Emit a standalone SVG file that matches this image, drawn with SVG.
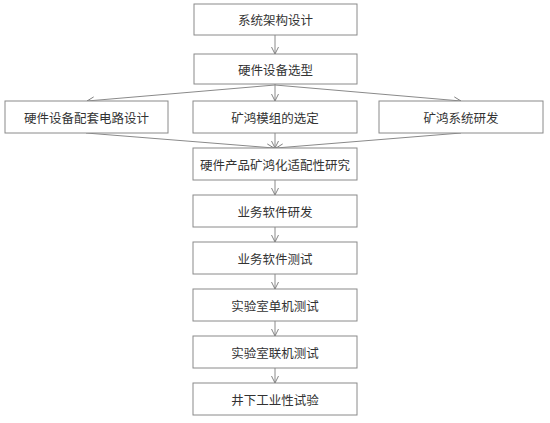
<svg xmlns="http://www.w3.org/2000/svg" width="550" height="423" viewBox="0 0 550 423">
<defs>
<marker id="ah" markerWidth="10" markerHeight="10" refX="8" refY="5" orient="auto" markerUnits="userSpaceOnUse">
<path d="M1,1.5 L8,5 L1,8.5" fill="none" stroke="#777" stroke-width="0.9"/>
</marker>
</defs>
<style>
.b{fill:#fff;stroke:#8a8a8a;stroke-width:1}
.t{font-family:"Noto Sans CJK SC","Noto Sans CJK JP",sans-serif;font-size:12.5px;fill:#333;text-anchor:middle;dominant-baseline:central}
.c{stroke:#8a8a8a;stroke-width:1;fill:none;marker-end:url(#ah)}
</style>
<rect width="550" height="423" fill="#fff"/>
<g id="connectors">
<line class="c" x1="275" y1="35" x2="275" y2="54"/>
<line class="c" x1="275" y1="84" x2="275" y2="101"/>
<line class="c" x1="275" y1="85" x2="87" y2="101"/>
<line class="c" x1="275" y1="85" x2="461" y2="101"/>
<line class="c" x1="86" y1="133" x2="274" y2="148"/>
<line class="c" x1="275" y1="133" x2="275" y2="148"/>
<line class="c" x1="461" y1="133" x2="276" y2="148"/>
<line class="c" x1="275" y1="180" x2="275" y2="195"/>
<line class="c" x1="275" y1="227" x2="275" y2="242"/>
<line class="c" x1="275" y1="274" x2="275" y2="289"/>
<line class="c" x1="275" y1="321" x2="275" y2="336"/>
<line class="c" x1="275" y1="368" x2="275" y2="383"/>
</g>
<g id="n1"><rect class="b" x="194" y="4" width="163" height="31"/><text class="t" x="275.5" y="19.5">系统架构设计</text></g>
<g id="n2"><rect class="b" x="194" y="54" width="163" height="30"/><text class="t" x="275.5" y="69">硬件设备选型</text></g>
<g id="n3"><rect class="b" x="5" y="101" width="163" height="32"/><text class="t" x="86.5" y="117">硬件设备配套电路设计</text></g>
<g id="n4"><rect class="b" x="193" y="101" width="164" height="32"/><text class="t" x="275" y="117">矿鸿模组的选定</text></g>
<g id="n5"><rect class="b" x="379" y="101" width="164" height="32"/><text class="t" x="461" y="117">矿鸿系统研发</text></g>
<g id="n6"><rect class="b" x="193" y="148" width="164" height="32"/><text class="t" x="275" y="164">硬件产品矿鸿化适配性研究</text></g>
<g id="n7"><rect class="b" x="193" y="195" width="164" height="32"/><text class="t" x="275" y="211">业务软件研发</text></g>
<g id="n8"><rect class="b" x="193" y="242" width="164" height="32"/><text class="t" x="275" y="258">业务软件测试</text></g>
<g id="n9"><rect class="b" x="193" y="289" width="164" height="32"/><text class="t" x="275" y="305">实验室单机测试</text></g>
<g id="n10"><rect class="b" x="193" y="336" width="164" height="32"/><text class="t" x="275" y="352">实验室联机测试</text></g>
<g id="n11"><rect class="b" x="193" y="383" width="164" height="32"/><text class="t" x="275" y="399">井下工业性试验</text></g>
</svg>
